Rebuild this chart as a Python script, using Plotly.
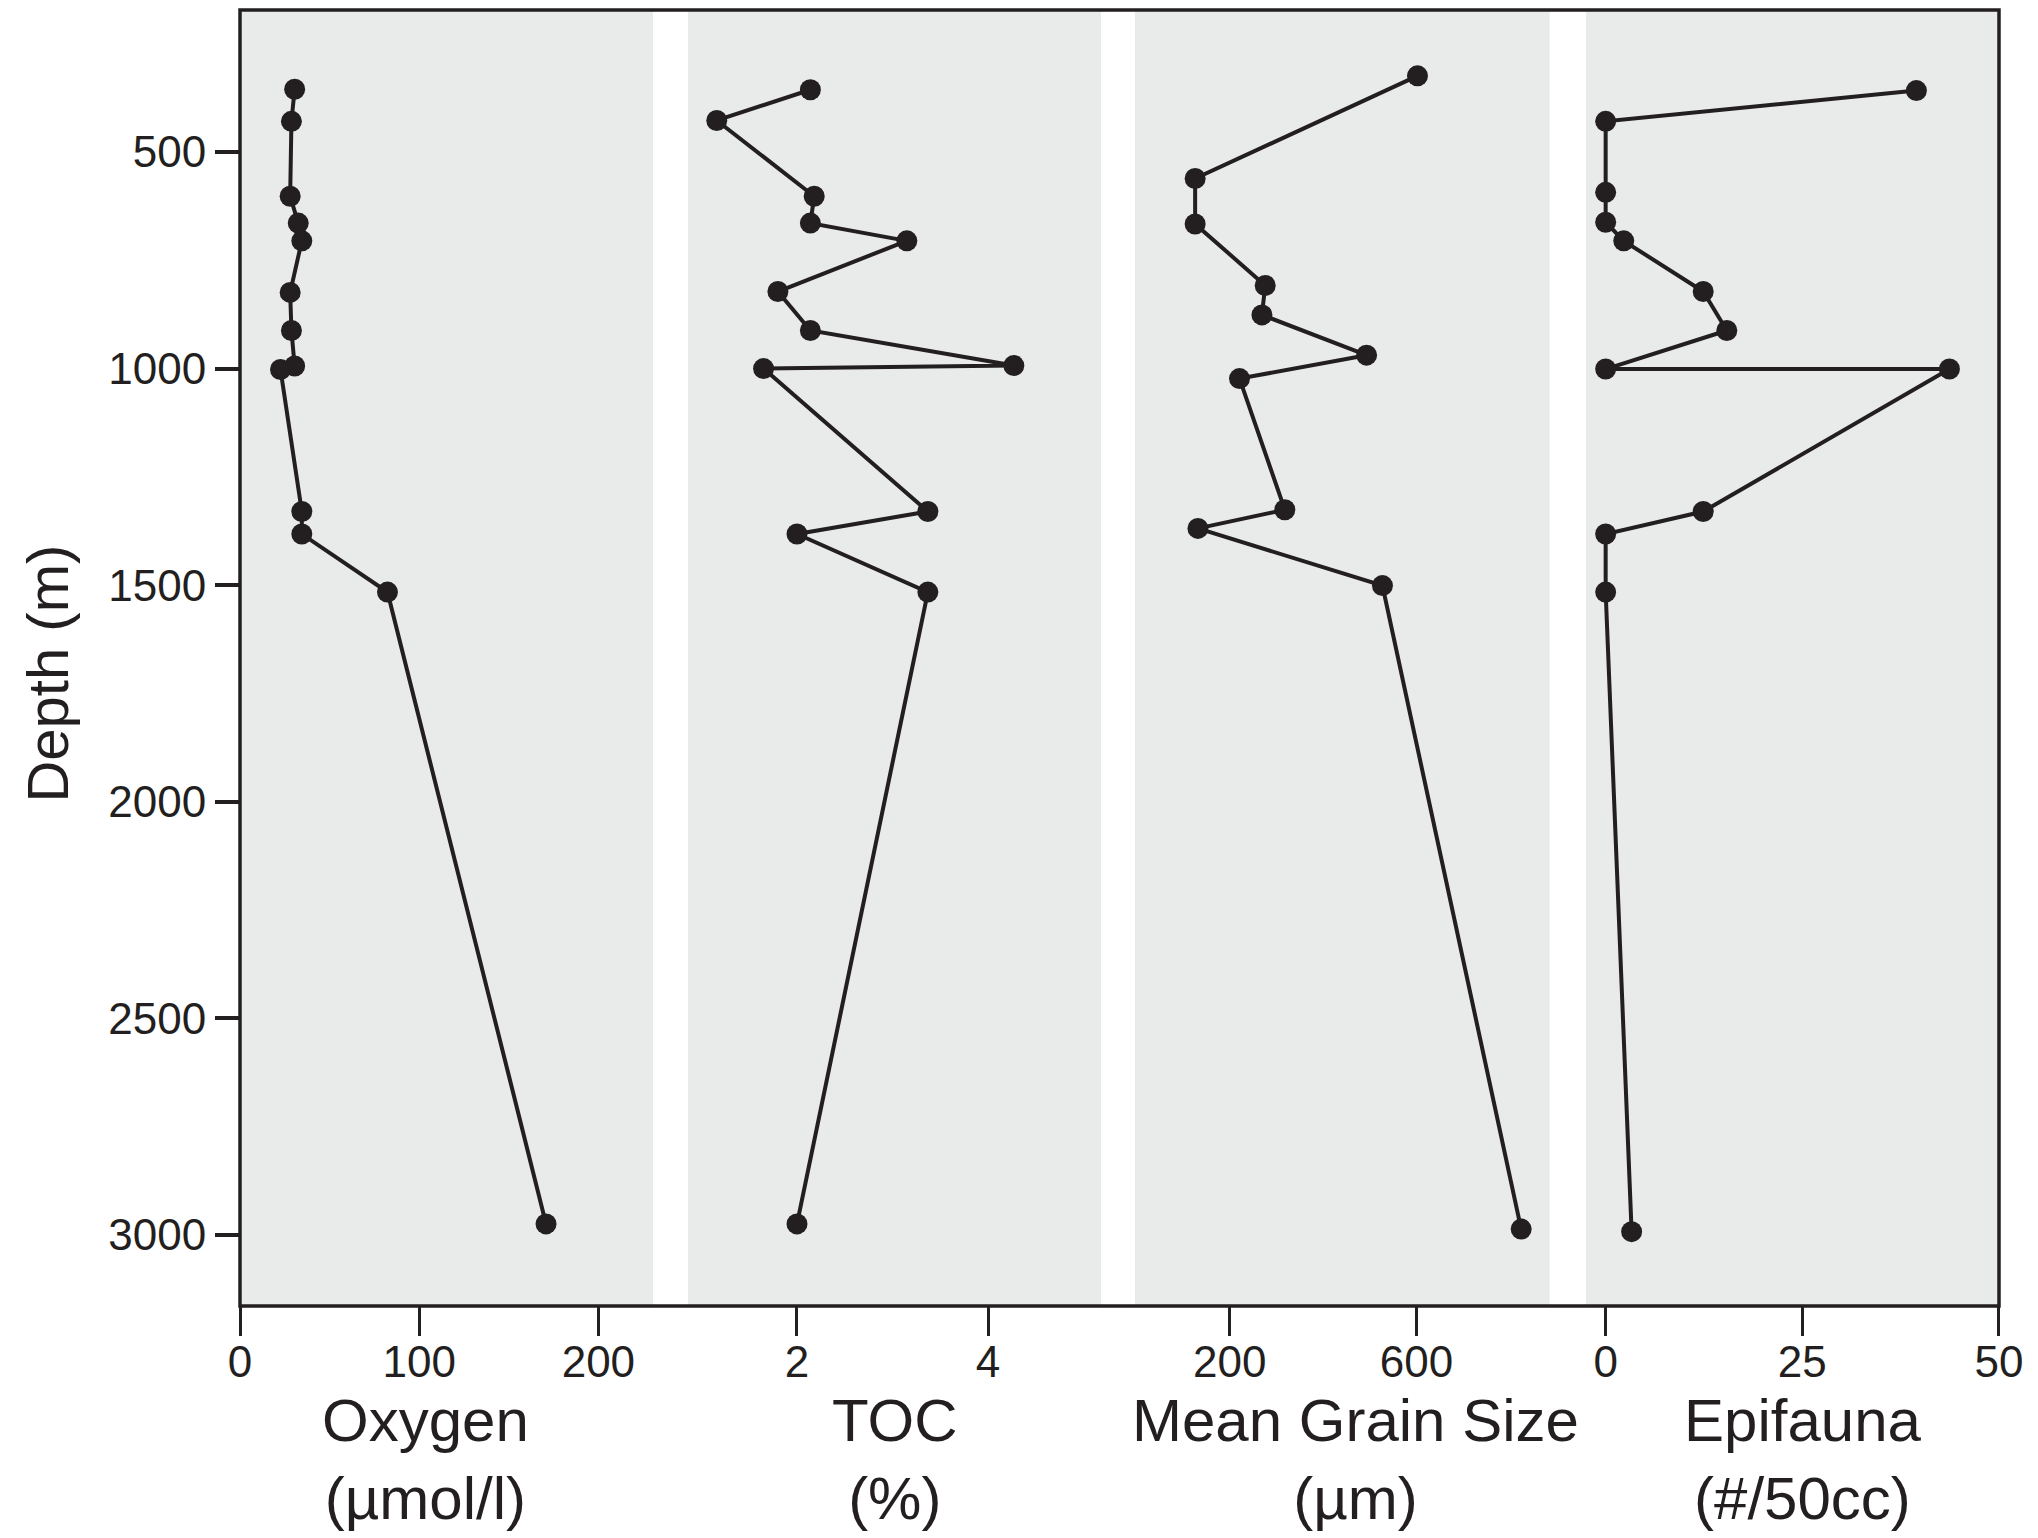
import plotly.graph_objects as go

# depth profiles, one set of arrays per panel
oxygen_depth = [355, 429, 602, 664, 705, 824, 912, 994, 1002, 1330, 1382, 1516, 2975]
oxygen = [30.5, 28.7, 28.0, 32.5, 34.5, 28.0, 28.7, 30.5, 22.6, 34.5, 34.5, 82.3, 170.8]

toc_depth = [356, 427, 602, 664, 705, 822, 912, 993, 1000, 1330, 1382, 1516, 2975]
toc = [2.14, 1.16, 2.18, 2.14, 3.15, 1.80, 2.14, 4.27, 1.65, 3.37, 2.00, 3.37, 2.00]

grain_depth = [324, 561, 666, 808, 876, 969, 1023, 1326, 1369, 1501, 2987]
grain = [602, 126, 126, 276, 269, 493, 221, 318, 132, 527, 824]

epi_depth = [358, 429, 593, 662, 705, 822, 912, 1001, 1001, 1330, 1382, 1516, 2993]
epifauna = [39.5, 0, 0, 0, 2.3, 12.4, 15.4, 0, 43.7, 12.4, 0, 0, 3.3]

depth_ticks = [500, 1000, 1500, 2000, 2500, 3000]
titles = ["Oxygen<br>(µmol/l)", "TOC<br>(%)", "Mean Grain Size<br>(µm)", "Epifauna<br>(#/50cc)"]

ink = "#231f20"
panel_bg = "#e9eaea"
font = "Liberation Sans, Arial, sans-serif"

panels = [
    (oxygen, oxygen_depth, [0, 0.2348], [0, 230.5], [0, 100, 200], 0.449),
    (toc, toc_depth, [0.2547, 0.4895], [0.859, 5.183], [2, 4], 0.5),
    (grain, grain_depth, [0.5088, 0.7445], [-2.8, 884.8], [200, 600], 0.533),
    (epifauna, epi_depth, [0.7652, 1.0], [-2.5, 50], [0, 25, 50], 0.525),
]

fig = go.Figure()
annotations = []
for i, (vals, dep, dom, rng, tv, tpos) in enumerate(panels):
    ax = "x" if i == 0 else f"x{i + 1}"
    fig.add_trace(go.Scatter(
        x=vals, y=dep, xaxis=ax, yaxis="y", mode="lines+markers",
        line=dict(color=ink, width=4),
        marker=dict(color=ink, size=21),
        showlegend=False,
    ))
    key = "xaxis" if i == 0 else f"xaxis{i + 1}"
    fig.layout[key] = dict(
        domain=dom, range=rng, anchor="y", tickvals=tv,
        ticks="outside", ticklen=29, tickwidth=2.5, tickcolor=ink,
        ticklabelstandoff=-12,
        showgrid=False, zeroline=False, showline=False,
        tickfont=dict(size=44, color=ink, family=font),
    )
    annotations.append(dict(
        text=titles[i], xref=f"{ax} domain", yref="paper", x=tpos, y=0,
        yshift=-153, xanchor="center", yanchor="middle", showarrow=False,
        font=dict(size=60, color=ink, family=font),
    ))

annotations.append(dict(
    text="Depth (m)", xref="paper", yref="paper", x=0, y=0.488, xshift=-192,
    textangle=-90, xanchor="center", yanchor="middle", showarrow=False,
    font=dict(size=58, color=ink, family=font),
))

# page body keeps its default 8px margin, so the figure is 8px smaller
fig.update_layout(
    width=2030, height=1530,
    margin=dict(l=232, r=39, t=2, b=232),
    paper_bgcolor="white", plot_bgcolor=panel_bg,
    yaxis=dict(
        range=[3164.6, 171.9], anchor="x", tickvals=depth_ticks,
        ticks="outside", ticklen=24, tickwidth=4, tickcolor=ink,
        showgrid=False, zeroline=False, showline=False,
        tickfont=dict(size=44, color=ink, family=font),
    ),
    annotations=annotations,
    shapes=[dict(type="rect", xref="paper", yref="paper", x0=0, x1=1, y0=0, y1=1,
                 line=dict(color=ink, width=3.5), layer="above")],
)

fig.write_html("out.html")
